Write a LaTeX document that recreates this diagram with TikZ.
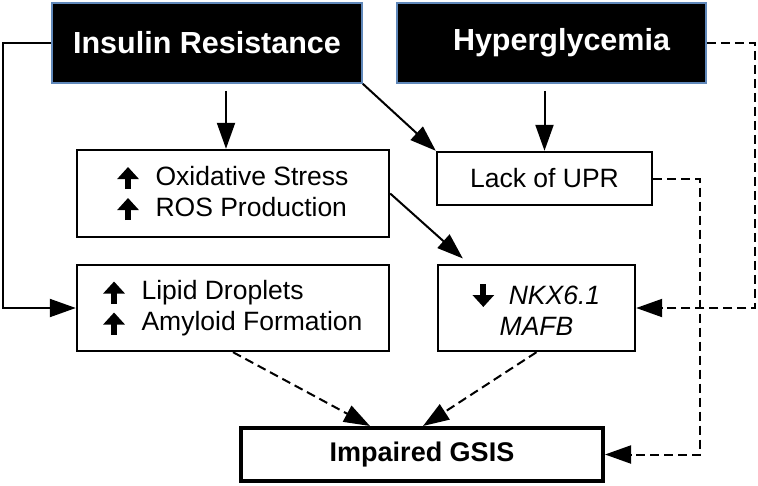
\documentclass[tikz,border=0pt]{standalone}
\usepackage{fontspec}
\setmainfont{Liberation Sans}
\usetikzlibrary{arrows.meta}
\definecolor{hdrblue}{RGB}{96,136,186}
\newcommand{\uparr}{\tikz[baseline=0pt,x=1pt,y=1pt]\draw[line width=6pt,-{Triangle[length=12pt,width=21pt]}] (0,-4) -- (0,18);}
\newcommand{\dnarr}{\tikz[baseline=0pt,x=1pt,y=1pt]\draw[line width=6pt,-{Triangle[length=12pt,width=21pt]}] (0,20) -- (0,-3);}

\begin{document}
\begin{tikzpicture}[x=1pt,y=-1pt,
  hdr/.style={draw=hdrblue, line width=1.5pt, fill=black, text=white, font=\fontsize{30.5}{36}\selectfont\bfseries, minimum height=80pt, inner sep=0pt},
  box/.style={draw, line width=2.4pt, fill=white, font=\fontsize{26.5}{31}\selectfont, align=left, inner sep=0pt},
  arr/.style={line width=2pt, -{Triangle[length=26pt,width=18pt]}},
  darr/.style={arr, dash pattern=on 9pt off 5pt}]
\useasboundingbox (0,0) rectangle (758,485);

\node[hdr, minimum width=310pt](IR) at (207,43) {Insulin Resistance};
\node[hdr, minimum width=309pt](HG) at (551.5,43) {\hspace*{20pt}Hyperglycemia};

\node[box, minimum width=312pt, minimum height=87pt](Oxi) at (233,193.5) {\uparr\hspace{17pt}Oxidative Stress\\\uparr\hspace{17pt}ROS Production};
\node[box, minimum width=215pt, minimum height=53pt](UPR) at (544.5,178.5) {Lack of UPR};

\node[box, minimum width=312pt, minimum height=86pt](Lip) at (233,308) {\uparr\hspace{17pt}Lipid Droplets\\\uparr\hspace{17pt}Amyloid Formation};
\node[box, align=center, minimum width=197pt, minimum height=86pt](NKX) at (536.5,308) {\dnarr\hspace{15pt}\textit{NKX6.1}\\\textit{MAFB}};

\node[box, line width=4pt, font=\fontsize{27}{32}\selectfont\bfseries, minimum width=362pt, minimum height=53pt](GSIS) at (422,454.5) {Impaired GSIS};

\coordinate (irL) at (3,43);
\coordinate (hgR) at (755,43);
\coordinate (upR) at (700,178.5);

\draw[arr] (IR.west) -- (irL) |- (Lip.west);
\draw[arr, shorten <=7pt] ([xshift=19pt]IR.south) -- ([xshift=19pt]IR.south |- Oxi.north);
\draw[arr] (IR.south east) -- (UPR.north west);
\draw[arr, shorten <=7pt] (HG.south -| UPR.north) -- (UPR.north);
\draw[arr, shorten >=8pt] (Oxi.east) -- ([xshift=32pt]NKX.north west);

\draw[darr] (HG.east) -- (hgR) |- (NKX.east);
\draw[darr] (UPR.east) -- (upR) |- (GSIS.east);
\draw[darr] (Lip.south) -- ([xshift=-52pt]GSIS.north);
\draw[darr] (NKX.south) -- ([xshift=1pt]GSIS.north);
\end{tikzpicture}
\end{document}
